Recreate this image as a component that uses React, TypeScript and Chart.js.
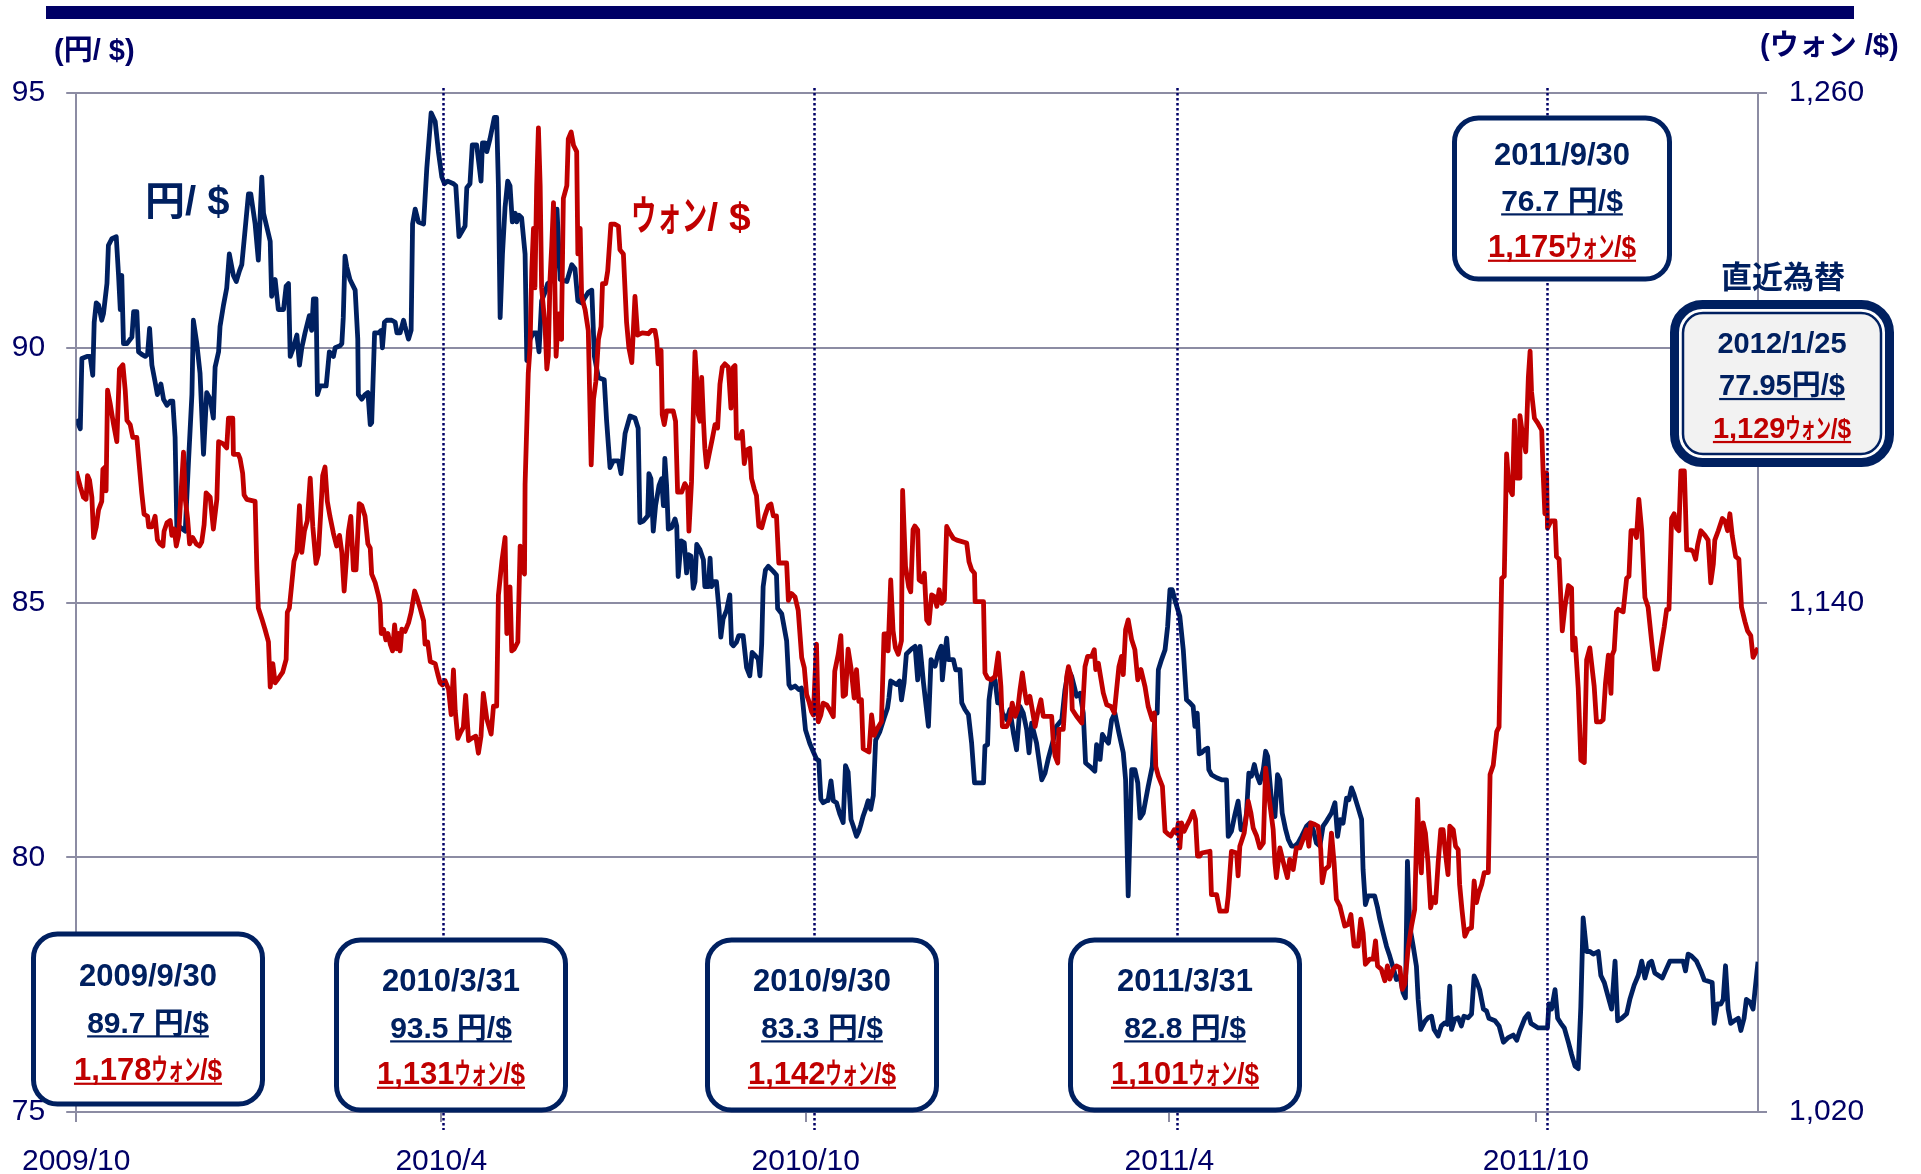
import React, { useEffect, useRef } from 'react';
import { Chart, registerables } from 'chart.js';

Chart.register(...registerables);

// x = trading-day index counted from 2009/9/30 (0) to 2012/1/25 (580)
const lastDay = 580;

// [trading day, 円/$]
const yenPerDollar: [number, number][] = [
  [0, 88.6], [1.4, 88.41], [1.95, 89.79], [3.7, 89.83], [4.8, 89.83], [5.7, 89.46], [6.2, 90.5], [6.9, 90.88],
  [7.7, 90.84], [8.8, 90.54], [9.4, 90.67], [10.6, 91.26], [11.1, 92.01], [12.3, 92.14], [13.8, 92.18], [14.6, 91.42],
  [15.2, 90.75], [15.7, 91.42], [16.3, 90.08], [17.5, 90.08], [19.2, 90.21], [19.8, 90.71], [20.9, 90.71], [21.5, 89.92],
  [22.6, 89.87], [23.8, 89.83], [24.6, 89.87], [25.3, 90.38], [26.1, 89.66], [27.2, 89.33], [28.0, 89.08], [29.2, 89.29],
  [30.1, 88.99], [31.3, 88.87], [32.4, 88.95], [33.3, 88.95], [34.1, 88.24], [34.7, 86.48], [35.8, 86.48], [37.6, 86.4],
  [38.7, 87.74], [39.9, 89.08], [40.4, 90.54], [41.6, 90.08], [42.7, 89.5], [43.9, 87.91], [45.0, 89.12], [46.2, 88.99],
  [47.3, 88.62], [47.9, 89.62], [49.1, 89.92], [49.6, 90.42], [50.8, 90.84], [51.9, 91.17], [52.8, 91.84], [54.2, 91.42],
  [55.2, 91.3], [56.3, 91.51], [57.1, 91.63], [58.3, 92.35], [59.4, 93.02], [60.2, 93.02], [61.7, 92.43], [62.8, 91.72],
  [64.0, 93.35], [64.6, 92.64], [66.9, 92.09], [67.4, 91.01], [68.6, 91.34], [69.7, 90.75], [71.5, 90.75], [72.4, 91.21],
  [73.2, 91.26], [73.8, 89.83], [74.9, 90.0], [76.1, 90.25], [77.0, 89.66], [77.8, 90.0], [78.9, 90.29], [80.4, 90.63],
  [81.2, 90.34], [81.8, 90.96], [82.7, 90.96], [83.2, 89.08], [84.1, 89.25], [86.2, 89.25], [87.3, 89.92], [88.7, 89.83],
  [89.3, 90.0], [91.0, 90.04], [91.6, 90.08], [92.1, 90.59], [92.7, 91.8], [93.3, 91.59], [94.4, 91.34], [96.2, 91.13],
  [97.1, 90.17], [97.3, 89.08], [98.5, 88.99], [99.6, 89.08], [100.6, 89.12], [101.4, 88.49], [101.9, 88.53], [102.9, 90.29],
  [104.2, 90.29], [105.2, 90.34], [105.6, 90.0], [106.3, 90.5], [107.1, 90.54], [108.8, 90.54], [110.0, 90.5], [110.6, 90.29],
  [111.7, 90.29], [112.9, 90.54], [113.4, 90.42], [114.6, 90.17], [115.5, 90.34], [116.0, 92.43], [116.9, 92.72], [118.0, 92.47],
  [119.8, 92.43], [120.9, 93.52], [122.4, 94.61], [123.8, 94.44], [124.9, 93.85], [126.1, 93.35], [127.0, 93.22], [128.1, 93.27],
  [130.1, 93.22], [130.9, 93.18], [132.0, 92.18], [133.2, 92.3], [134.1, 92.39], [134.7, 93.14], [135.8, 93.22], [136.6, 93.98],
  [138.1, 93.98], [139.6, 93.27], [140.1, 94.02], [141.0, 94.02], [141.6, 93.85], [142.7, 94.1], [144.2, 94.52], [145.0, 94.52],
  [145.6, 93.18], [146.2, 90.59], [147.0, 91.84], [147.9, 92.76], [148.8, 93.27], [149.6, 93.18], [150.4, 92.47], [151.4, 92.64],
  [151.9, 92.47], [152.7, 92.6], [153.6, 92.55], [154.8, 91.84], [155.4, 89.75], [156.5, 90.17], [157.7, 90.29], [158.8, 90.29],
  [159.6, 89.92], [160.5, 90.92], [161.7, 91.09], [162.6, 91.26], [164.9, 91.34], [165.8, 92.72], [166.9, 91.34], [169.2, 91.3],
  [170.9, 91.63], [172.0, 91.55], [173.0, 90.92], [174.3, 90.88], [176.6, 91.09], [177.8, 91.13], [178.7, 89.83], [180.1, 89.41],
  [182.1, 89.37], [182.9, 88.58], [184.1, 87.65], [185.2, 87.78], [187.0, 87.78], [187.9, 87.53], [189.3, 88.32], [191.0, 88.66],
  [192.7, 88.62], [193.8, 88.42], [194.4, 86.57], [195.6, 86.6], [197.1, 86.7], [197.5, 87.53], [198.2, 87.43], [199.0, 86.4],
  [199.8, 86.9], [201.0, 87.3], [201.9, 87.43], [202.5, 86.9], [203.0, 87.83], [203.6, 87.3], [204.2, 86.44], [205.3, 86.47],
  [206.5, 86.64], [207.1, 86.5], [207.6, 85.51], [208.6, 86.21], [209.7, 86.17], [210.5, 85.58], [211.1, 85.94], [212.0, 85.91],
  [212.8, 85.28], [213.4, 85.41], [214.0, 86.14], [215.1, 86.04], [216.3, 85.84], [216.8, 85.31], [218.0, 85.31], [218.6, 85.87],
  [219.1, 85.31], [220.0, 85.41], [220.8, 85.41], [221.7, 84.85], [222.3, 84.32], [223.1, 84.68], [224.3, 84.85], [225.4, 85.15],
  [226.0, 84.19], [226.6, 84.15], [227.7, 84.22], [228.5, 84.35], [230.0, 84.35], [231.2, 83.72], [232.3, 83.56], [233.1, 84.02],
  [234.3, 83.95], [235.2, 83.89], [235.8, 83.56], [236.4, 84.19], [236.9, 85.31], [237.7, 85.64], [238.7, 85.71], [240.4, 85.61],
  [241.5, 85.54], [241.9, 84.88], [243.3, 84.78], [245.0, 84.25], [245.8, 83.39], [246.5, 83.32], [247.9, 83.36], [249.2, 83.29],
  [250.1, 83.32], [251.5, 82.5], [253.0, 82.23], [254.2, 82.07], [255.3, 81.93], [256.1, 81.9], [256.8, 81.14], [257.6, 81.07],
  [258.8, 81.11], [259.3, 81.11], [260.3, 81.5], [261.1, 81.11], [262.2, 81.07], [263.4, 80.84], [264.5, 80.68], [265.3, 81.8],
  [266.2, 81.67], [267.2, 80.74], [268.0, 80.61], [269.1, 80.41], [269.9, 80.51], [270.6, 80.64], [271.4, 80.81], [272.2, 80.94],
  [273.1, 81.11], [274.0, 80.94], [274.9, 81.21], [275.7, 82.3], [277.1, 82.46], [278.6, 82.73], [279.8, 82.93], [280.3, 83.13],
  [280.9, 83.46], [282.9, 83.39], [284.0, 83.46], [284.6, 83.09], [285.5, 83.42], [286.3, 83.99], [288.1, 84.09], [289.3, 84.14],
  [290.2, 83.48], [291.0, 84.14], [292.2, 83.42], [293.9, 82.57], [294.8, 83.88], [296.2, 83.75], [297.3, 84.01], [298.3, 84.14],
  [298.7, 83.48], [299.6, 84.01], [300.2, 84.3], [300.8, 83.88], [302.5, 83.88], [303.3, 83.68], [304.8, 83.68], [305.4, 83.03],
  [306.5, 82.9], [307.7, 82.8], [308.8, 82.24], [309.8, 81.46], [312.9, 81.46], [313.4, 82.18], [314.3, 82.21], [314.8, 83.09],
  [315.7, 83.48], [316.9, 83.48], [317.8, 83.03], [318.6, 83.09], [319.4, 82.83], [320.9, 82.7], [322.0, 82.9], [323.2, 82.44],
  [324.3, 82.11], [325.5, 82.96], [326.6, 82.83], [327.8, 82.5], [328.6, 82.05], [329.5, 82.63], [331.2, 82.24], [332.0, 81.92],
  [333.0, 81.52], [334.1, 81.65], [335.3, 81.95], [337.0, 82.31], [338.1, 82.57], [339.9, 82.7], [341.0, 83.29], [342.2, 83.68],
  [343.3, 83.55], [344.2, 83.35], [345.0, 83.16], [346.2, 83.22], [347.3, 82.83], [348.1, 81.85], [349.6, 81.78], [351.3, 81.69],
  [351.9, 82.21], [353.1, 81.92], [353.9, 82.41], [355.0, 82.31], [356.0, 82.24], [357.1, 82.7], [358.2, 82.83], [359.6, 82.44],
  [361.1, 82.05], [361.9, 81.52], [362.8, 79.24], [364.0, 81.72], [365.1, 81.72], [366.1, 81.46], [366.9, 80.77], [368.0, 80.87],
  [369.7, 81.39], [371.1, 81.78], [372.0, 82.83], [372.8, 82.83], [373.2, 83.68], [374.3, 83.88], [375.5, 84.07], [376.4, 84.53],
  [377.2, 85.25], [378.0, 85.25], [378.9, 85.05], [380.6, 84.73], [381.8, 84.07], [382.9, 83.09], [384.1, 83.03], [385.2, 82.96],
  [385.8, 82.57], [386.6, 82.83], [387.3, 82.03], [388.1, 82.05], [389.2, 82.11], [390.2, 82.14], [390.6, 81.72], [391.5, 81.62],
  [393.3, 81.56], [395.0, 81.52], [396.7, 81.52], [397.3, 80.41], [398.4, 80.51], [399.6, 80.84], [400.7, 81.1], [401.7, 80.54],
  [402.8, 80.54], [403.6, 80.87], [404.4, 81.65], [405.3, 81.59], [406.3, 81.82], [407.1, 81.62], [408.2, 81.46], [409.4, 81.72],
  [410.2, 82.08], [410.9, 81.98], [411.7, 81.46], [412.5, 80.93], [413.4, 80.8], [414.3, 81.62], [415.1, 81.52], [415.9, 80.87],
  [417.1, 80.54], [418.0, 80.35], [419.1, 80.22], [420.3, 80.22], [421.4, 80.28], [422.6, 80.41], [424.3, 80.61], [425.4, 80.67],
  [426.6, 80.54], [427.7, 80.28], [428.9, 80.22], [430.0, 80.61], [431.2, 80.71], [432.9, 80.87], [434.1, 81.07], [435.0, 80.41],
  [435.9, 80.74], [436.9, 80.67], [438.1, 81.16], [438.9, 81.13], [439.8, 81.36], [440.7, 81.23], [442.1, 80.97], [443.3, 80.74],
  [443.8, 79.76], [444.6, 79.07], [445.5, 79.24], [447.8, 79.24], [448.8, 79.01], [449.6, 78.78], [450.7, 78.52], [451.9, 78.25],
  [453.0, 78.06], [454.2, 77.83], [455.3, 77.6], [456.5, 77.67], [457.6, 77.34], [458.4, 77.24], [459.1, 79.92], [459.9, 78.65],
  [461.1, 78.25], [462.2, 77.86], [462.8, 77.21], [463.7, 76.62], [465.1, 76.78], [466.2, 76.85], [467.4, 76.88], [468.3, 76.62],
  [469.7, 76.49], [470.8, 76.69], [472.0, 76.75], [472.9, 76.72], [473.7, 77.47], [474.3, 76.62], [475.4, 76.82], [476.6, 76.85],
  [477.7, 76.69], [478.6, 76.88], [480.0, 76.85], [481.2, 76.92], [482.1, 77.67], [482.9, 77.57], [484.0, 77.4], [485.3, 77.02],
  [486.4, 76.98], [487.2, 76.84], [489.3, 76.79], [490.7, 76.69], [492.2, 76.37], [493.9, 76.46], [495.6, 76.51], [496.8, 76.41],
  [497.9, 76.6], [499.6, 76.84], [500.8, 76.93], [501.7, 76.74], [504.2, 76.65], [507.4, 76.65], [507.9, 77.12], [508.8, 77.02],
  [510.0, 77.4], [510.9, 76.84], [512.0, 76.74], [513.2, 76.65], [514.6, 76.37], [515.7, 76.13], [516.9, 75.9], [518.0, 75.85],
  [518.9, 77.07], [519.7, 78.81], [520.9, 78.15], [522.0, 78.15], [523.2, 78.1], [524.9, 78.15], [525.8, 77.68], [527.0, 77.54],
  [528.1, 77.31], [529.5, 77.02], [530.7, 77.96], [531.6, 76.79], [533.0, 76.84], [534.7, 76.93], [535.8, 77.21], [537.3, 77.49],
  [538.7, 77.68], [539.9, 77.96], [541.0, 77.63], [542.4, 77.92], [543.3, 77.96], [544.4, 77.73], [547.0, 77.63], [548.1, 77.77],
  [549.6, 77.96], [554.2, 77.96], [555.0, 77.77], [555.9, 78.1], [557.1, 78.06], [558.8, 77.96], [560.3, 77.77], [561.5, 77.59],
  [564.2, 77.54], [564.9, 76.74], [566.0, 77.12], [567.2, 77.12], [568.0, 77.21], [568.8, 77.87], [569.7, 77.02], [570.6, 76.74],
  [571.8, 76.79], [573.2, 76.84], [574.1, 76.6], [575.2, 76.84], [576.0, 77.21], [577.2, 77.16], [578.3, 77.02], [580, 77.95],
];

// [trading day, ウォン/$]
const wonPerDollar: [number, number][] = [
  [0, 1170.9], [1.4, 1167.3], [2.5, 1164.8], [3.4, 1164.3], [3.9, 1169.9], [4.6, 1168.8], [5.4, 1164.8], [6.0, 1155.3],
  [6.9, 1157.8], [7.7, 1161.8], [8.8, 1163.8], [9.2, 1171.4], [10.0, 1171.9], [10.3, 1166.3], [10.8, 1190.0], [11.7, 1186.9],
  [12.9, 1181.9], [14.0, 1177.9], [14.9, 1195.0], [16.1, 1196.0], [16.9, 1190.0], [17.5, 1182.9], [18.6, 1181.9], [19.5, 1178.9],
  [20.9, 1178.9], [21.8, 1171.9], [22.6, 1165.8], [23.4, 1160.8], [24.6, 1160.3], [25.0, 1157.8], [26.1, 1157.8], [27.2, 1160.3],
  [28.0, 1154.8], [28.9, 1153.8], [29.9, 1153.3], [30.3, 1156.8], [31.3, 1158.8], [32.4, 1159.3], [33.0, 1155.8], [33.8, 1157.3],
  [34.5, 1153.3], [35.3, 1155.8], [36.1, 1165.3], [37.0, 1175.4], [37.6, 1164.3], [38.4, 1159.8], [39.1, 1153.8], [40.2, 1155.3],
  [41.4, 1153.8], [42.5, 1153.3], [43.3, 1154.3], [44.1, 1158.3], [44.8, 1165.8], [46.2, 1164.8], [47.3, 1157.3], [48.5, 1164.3],
  [49.1, 1177.9], [50.6, 1177.4], [51.9, 1176.4], [52.5, 1183.4], [54.0, 1183.4], [54.2, 1174.9], [55.9, 1174.9], [56.5, 1173.9],
  [57.4, 1170.4], [57.9, 1165.3], [58.8, 1164.3], [61.7, 1163.8], [62.3, 1147.7], [62.8, 1138.7], [64.0, 1136.2], [65.1, 1133.7],
  [66.3, 1130.7], [66.9, 1120.1], [67.8, 1125.6], [68.6, 1121.1], [69.7, 1122.1], [71.2, 1123.6], [72.4, 1126.6], [72.8, 1137.7],
  [73.5, 1138.7], [74.3, 1144.2], [75.1, 1149.7], [76.1, 1151.8], [77.0, 1162.8], [77.8, 1151.8], [78.7, 1156.8], [79.7, 1159.3],
  [80.7, 1169.3], [81.6, 1157.8], [82.7, 1149.2], [83.5, 1151.3], [84.3, 1160.8], [85.0, 1169.9], [85.8, 1171.9], [86.6, 1163.8],
  [87.5, 1160.3], [88.7, 1156.3], [89.8, 1153.3], [90.8, 1155.8], [91.6, 1151.8], [92.4, 1142.7], [93.3, 1151.3], [93.9, 1156.8],
  [94.7, 1160.3], [95.6, 1147.7], [96.5, 1147.7], [97.6, 1163.3], [98.5, 1162.8], [99.6, 1160.3], [100.6, 1153.8], [101.4, 1152.8],
  [101.9, 1146.7], [103.1, 1144.7], [104.2, 1141.7], [104.8, 1139.7], [105.2, 1132.7], [106.0, 1133.7], [106.8, 1131.2], [107.5, 1132.7],
  [108.3, 1130.2], [109.1, 1128.6], [109.8, 1134.7], [110.6, 1129.1], [111.1, 1132.7], [111.7, 1128.6], [112.3, 1133.7], [113.4, 1133.2],
  [114.6, 1135.2], [115.5, 1137.7], [116.7, 1142.7], [117.5, 1141.2], [118.6, 1138.7], [119.8, 1135.7], [120.3, 1130.2], [121.2, 1130.7],
  [122.1, 1126.1], [123.8, 1125.6], [124.7, 1123.1], [125.5, 1121.1], [126.3, 1120.6], [127.2, 1121.6], [128.4, 1119.6], [129.3, 1113.6],
  [130.1, 1124.1], [130.7, 1114.6], [131.6, 1108.0], [132.7, 1109.6], [133.5, 1110.6], [134.3, 1118.1], [135.3, 1107.5], [136.4, 1108.0],
  [137.8, 1108.5], [138.7, 1104.5], [139.6, 1108.5], [140.4, 1118.6], [141.6, 1112.6], [143.1, 1109.0], [143.9, 1115.6], [145.0, 1115.6],
  [145.6, 1141.7], [146.8, 1149.7], [147.9, 1155.3], [148.5, 1132.7], [149.6, 1143.7], [150.2, 1128.6], [151.1, 1129.1], [152.3, 1130.7],
  [153.1, 1153.3], [153.9, 1147.7], [154.6, 1146.7], [154.8, 1167.8], [155.4, 1181.9], [155.9, 1194.0], [156.5, 1200.0], [157.1, 1218.1],
  [157.7, 1228.1], [158.2, 1214.1], [158.8, 1238.2], [159.4, 1251.8], [160.0, 1238.2], [160.5, 1214.1], [161.7, 1205.0], [162.3, 1195.0],
  [162.8, 1198.0], [163.4, 1216.1], [164.0, 1224.1], [164.6, 1234.2], [165.1, 1213.1], [165.5, 1198.0], [166.3, 1208.0], [167.2, 1202.0],
  [167.4, 1206.0], [168.0, 1235.2], [169.2, 1238.2], [169.7, 1249.2], [170.7, 1250.8], [171.5, 1247.7], [172.6, 1246.2], [173.0, 1222.1],
  [173.8, 1228.1], [174.3, 1212.1], [175.5, 1209.0], [176.6, 1204.0], [177.6, 1172.4], [178.4, 1187.9], [179.2, 1192.0], [180.1, 1202.0],
  [181.0, 1205.0], [181.5, 1215.1], [182.6, 1215.1], [183.3, 1218.1], [184.4, 1229.1], [185.8, 1229.1], [187.0, 1228.6], [187.5, 1223.1],
  [188.7, 1222.1], [189.8, 1206.0], [190.6, 1200.0], [191.6, 1196.5], [192.7, 1212.1], [193.6, 1203.0], [195.2, 1203.5], [197.3, 1203.3],
  [198.4, 1204.1], [199.6, 1204.1], [200.2, 1201.7], [200.7, 1196.2], [201.7, 1199.4], [202.1, 1184.3], [202.8, 1181.9], [203.6, 1185.1],
  [205.9, 1185.1], [206.7, 1182.7], [207.4, 1166.0], [208.8, 1166.0], [209.9, 1168.0], [210.9, 1166.8], [211.3, 1156.8], [212.2, 1168.4],
  [212.8, 1184.3], [213.4, 1199.0], [214.0, 1192.2], [214.5, 1184.3], [215.1, 1182.7], [215.7, 1193.0], [216.3, 1183.1], [216.8, 1176.3],
  [217.4, 1171.9], [218.2, 1174.7], [219.4, 1178.7], [220.3, 1181.9], [221.2, 1181.1], [222.0, 1191.4], [222.8, 1195.4], [223.7, 1196.2],
  [224.9, 1195.4], [225.8, 1185.8], [226.6, 1195.4], [227.2, 1195.8], [227.7, 1178.7], [228.9, 1178.7], [229.7, 1180.3], [230.4, 1172.7],
  [231.2, 1175.9], [232.3, 1176.3], [232.9, 1169.2], [233.8, 1166.8], [234.6, 1165.2], [235.4, 1158.0], [236.4, 1157.6], [237.5, 1160.4],
  [238.7, 1162.8], [239.6, 1163.2], [240.4, 1160.4], [241.5, 1160.4], [242.3, 1149.3], [245.0, 1149.3], [245.6, 1140.5], [246.7, 1142.1],
  [247.9, 1141.3], [249.0, 1138.1], [250.2, 1127.0], [251.1, 1124.6], [251.9, 1118.3], [252.7, 1116.7], [253.6, 1114.3], [254.2, 1113.5],
  [255.3, 1130.2], [255.9, 1111.9], [256.8, 1113.5], [257.6, 1116.3], [258.8, 1115.9], [259.9, 1114.7], [261.1, 1113.1], [261.6, 1123.8],
  [262.8, 1127.8], [263.7, 1132.2], [264.5, 1117.9], [265.3, 1118.3], [266.2, 1129.0], [267.2, 1124.6], [268.3, 1117.5], [269.1, 1124.2],
  [269.9, 1116.7], [270.8, 1117.1], [271.4, 1105.6], [273.4, 1104.8], [274.3, 1113.5], [275.2, 1108.7], [276.3, 1110.3], [277.7, 1111.9],
  [278.6, 1132.6], [279.4, 1132.6], [280.0, 1128.6], [280.9, 1145.3], [281.7, 1133.4], [282.5, 1129.4], [283.5, 1127.8], [284.6, 1131.0],
  [285.0, 1166.4], [286.0, 1148.5], [287.1, 1143.7], [287.8, 1142.5], [288.6, 1157.2], [289.2, 1158.0], [290.2, 1157.1], [290.7, 1145.3],
  [291.6, 1144.9], [292.5, 1146.9], [293.3, 1135.9], [294.1, 1135.1], [295.0, 1141.8], [296.0, 1141.4], [296.8, 1139.1], [297.6, 1143.0],
  [298.5, 1139.8], [299.4, 1140.6], [300.2, 1157.9], [301.4, 1156.3], [302.5, 1155.1], [303.7, 1154.7], [307.1, 1154.0], [307.9, 1149.6],
  [308.8, 1147.7], [309.8, 1146.9], [310.0, 1140.2], [312.9, 1140.2], [313.4, 1123.4], [314.3, 1122.2], [315.5, 1121.8], [316.9, 1122.6],
  [318.0, 1128.1], [318.9, 1120.2], [319.4, 1110.8], [320.9, 1110.8], [322.0, 1112.4], [322.8, 1116.3], [323.8, 1113.2], [324.7, 1114.8],
  [325.5, 1119.5], [326.3, 1123.4], [327.2, 1118.7], [327.8, 1116.3], [328.9, 1117.9], [329.7, 1114.8], [330.7, 1110.8], [331.6, 1114.0],
  [332.7, 1117.1], [333.5, 1113.2], [336.4, 1113.2], [337.0, 1106.9], [337.6, 1103.8], [338.5, 1102.2], [338.9, 1110.1], [340.4, 1110.1],
  [341.6, 1122.6], [342.2, 1124.9], [343.1, 1122.6], [343.5, 1114.8], [345.0, 1113.2], [346.8, 1111.6], [347.9, 1124.9], [348.8, 1127.3],
  [350.2, 1127.3], [351.1, 1128.9], [351.6, 1124.2], [352.5, 1125.7], [354.2, 1118.7], [355.4, 1115.9], [356.9, 1115.5], [358.0, 1114.0],
  [358.8, 1119.5], [359.6, 1124.9], [360.5, 1127.3], [361.1, 1123.0], [361.9, 1133.6], [362.8, 1135.9], [364.0, 1131.2], [365.1, 1128.9],
  [366.1, 1121.8], [367.2, 1124.2], [368.6, 1120.2], [369.7, 1115.5], [371.1, 1112.4], [371.8, 1114.0], [372.3, 1101.4], [373.2, 1099.1],
  [374.6, 1096.7], [375.5, 1086.1], [376.6, 1085.4], [377.5, 1085.0], [378.7, 1086.5], [379.5, 1085.7], [380.1, 1088.1], [380.6, 1082.2],
  [381.2, 1088.1], [382.1, 1086.1], [382.9, 1087.3], [384.1, 1088.9], [385.2, 1090.8], [386.0, 1088.9], [386.7, 1080.3], [387.5, 1080.3],
  [388.1, 1081.0], [391.0, 1081.4], [391.5, 1071.2], [393.3, 1071.2], [394.4, 1067.3], [396.7, 1067.3], [397.3, 1070.9], [398.4, 1081.4],
  [400.2, 1081.0], [400.7, 1075.6], [401.3, 1082.6], [402.8, 1085.7], [404.2, 1093.2], [405.1, 1090.5], [405.9, 1086.9], [407.1, 1085.0],
  [408.2, 1082.2], [409.4, 1083.4], [410.2, 1101.0], [411.3, 1094.4], [412.8, 1086.5], [413.4, 1078.7], [413.9, 1075.2], [415.1, 1082.2],
  [416.2, 1079.1], [417.7, 1075.2], [418.5, 1079.5], [419.7, 1077.1], [420.8, 1082.2], [422.0, 1082.2], [423.1, 1084.2], [424.3, 1086.5],
  [425.1, 1082.6], [425.8, 1088.1], [427.2, 1087.7], [428.3, 1087.3], [429.2, 1081.8], [429.7, 1074.0], [430.6, 1077.1], [432.0, 1077.9],
  [432.9, 1085.7], [433.8, 1078.7], [434.6, 1070.1], [435.8, 1068.5], [436.9, 1065.4], [437.5, 1063.8], [438.7, 1064.2], [439.6, 1066.5],
  [440.7, 1059.1], [442.1, 1059.1], [443.0, 1065.4], [443.8, 1062.2], [444.6, 1054.8], [446.1, 1056.0], [447.3, 1056.0], [448.1, 1060.3],
  [448.8, 1054.4], [450.1, 1053.6], [451.3, 1050.9], [452.2, 1054.4], [453.0, 1051.3], [454.2, 1053.6], [455.3, 1054.4], [456.5, 1054.0],
  [457.3, 1048.9], [458.2, 1050.1], [459.3, 1058.3], [460.5, 1063.8], [461.6, 1067.7], [462.6, 1093.6], [463.0, 1085.4], [463.9, 1076.3],
  [464.5, 1088.1], [465.3, 1085.7], [466.2, 1078.7], [467.1, 1068.1], [467.9, 1070.5], [468.8, 1069.3], [469.7, 1078.7], [470.6, 1086.5],
  [471.4, 1086.5], [472.2, 1081.0], [473.1, 1075.9], [473.7, 1087.3], [474.9, 1086.5], [475.7, 1082.6], [476.6, 1081.8], [477.1, 1073.6],
  [477.9, 1067.7], [478.9, 1061.4], [480.0, 1063.0], [481.2, 1063.4], [482.1, 1074.4], [482.9, 1069.3], [483.7, 1071.6], [484.7, 1073.6],
  [485.6, 1076.4], [487.0, 1076.4], [487.6, 1099.5], [488.7, 1101.7], [489.9, 1109.6], [490.7, 1110.7], [491.6, 1145.7], [492.5, 1146.2],
  [493.3, 1175.0], [494.1, 1167.1], [495.3, 1165.4], [496.0, 1182.9], [496.8, 1169.3], [497.6, 1169.3], [497.9, 1184.0], [498.7, 1180.1],
  [499.9, 1175.5], [500.8, 1193.0], [501.4, 1199.2], [501.9, 1189.6], [502.9, 1183.4], [504.0, 1182.3], [505.4, 1180.6], [505.9, 1170.5],
  [506.5, 1160.9], [507.1, 1170.5], [507.4, 1157.5], [508.6, 1159.2], [510.0, 1159.2], [510.5, 1150.8], [511.4, 1150.2], [512.5, 1133.3],
  [513.4, 1138.9], [514.6, 1144.0], [515.7, 1143.4], [516.1, 1128.8], [516.9, 1131.6], [518.0, 1119.8], [518.9, 1102.9], [520.1, 1102.3],
  [520.9, 1126.5], [522.0, 1129.3], [523.5, 1120.3], [524.3, 1111.9], [525.8, 1111.9], [526.6, 1112.4], [527.4, 1120.9], [528.4, 1127.6],
  [529.3, 1118.6], [529.7, 1127.6], [530.4, 1128.8], [531.2, 1137.8], [531.8, 1138.4], [533.5, 1137.8], [534.7, 1145.7], [535.5, 1146.2],
  [536.2, 1156.9], [537.3, 1156.9], [538.1, 1155.3], [538.9, 1164.3], [539.9, 1156.9], [541.0, 1141.2], [542.1, 1138.9], [543.3, 1131.0],
  [544.4, 1124.3], [545.4, 1124.3], [546.5, 1129.3], [547.7, 1134.4], [548.5, 1138.4], [549.3, 1138.4], [550.2, 1159.8], [551.1, 1160.9],
  [551.9, 1157.5], [552.7, 1156.9], [553.4, 1171.0], [554.6, 1171.0], [555.0, 1162.0], [555.4, 1152.4], [556.9, 1152.4], [557.7, 1151.9],
  [558.5, 1150.2], [559.2, 1153.6], [560.3, 1156.9], [561.7, 1155.8], [562.8, 1154.7], [563.7, 1144.6], [564.6, 1149.1], [565.1, 1154.7],
  [566.3, 1156.9], [567.7, 1159.8], [568.6, 1159.2], [569.5, 1156.9], [570.3, 1160.9], [571.1, 1155.8], [572.3, 1150.8], [573.4, 1150.2],
  [574.3, 1138.9], [575.5, 1135.5], [576.4, 1133.3], [577.5, 1132.2], [578.3, 1127.1], [580, 1129.3],
];

// x-axis ticks
const xTickDays = [0, 125.9, 251.6, 377.0, 503.4];
const xTickLabels = ['2009/10', '2010/4', '2010/10', '2011/4', '2011/10'];
// dotted reference dates: 2010/3/31, 2010/9/30, 2011/3/31, 2011/9/30
const markerDays = [126.6, 254.5, 379.7, 507.4];

// callout boxes
const boxDates = ['2009/9/30', '2010/3/31', '2010/9/30', '2011/3/31', '2011/9/30'];
const boxYen = ['89.7', '93.5', '83.3', '82.8', '76.7'];
const boxWon = ['1,178', '1,131', '1,142', '1,101', '1,175'];
const latestDate = '2012/1/25';
const latestYen = '77.95';
const latestWon = '1,129';

const NAVY = '#002060';
const DARK = '#000066';
const RED = '#c00000';
const GRID = '#8c8ca3';
const FONT = "'Liberation Sans', Arial, 'Noto Sans CJK JP', sans-serif";

type Part = { t: string; size: number; sx?: number };

function drawRich(ctx: CanvasRenderingContext2D, parts: Part[], x: number, cy: number, color: string, align: 'center' | 'left', underline = false) {
  const widths = parts.map((p) => {
    ctx.font = `bold ${p.size}px ${FONT}`;
    return ctx.measureText(p.t).width * (p.sx ?? 1);
  });
  const total = widths.reduce((a, b) => a + b, 0);
  let cur = align === 'center' ? x - total / 2 : x;
  const start = cur;
  const maxSize = Math.max(...parts.map((p) => p.size));
  const baseline = cy + maxSize * 0.36;
  ctx.fillStyle = color;
  ctx.textAlign = 'left';
  ctx.textBaseline = 'alphabetic';
  parts.forEach((p, i) => {
    ctx.font = `bold ${p.size}px ${FONT}`;
    ctx.save();
    ctx.translate(cur, baseline);
    ctx.scale(p.sx ?? 1, 1);
    ctx.fillText(p.t, 0, 0);
    ctx.restore();
    cur += widths[i];
  });
  if (underline) {
    ctx.fillRect(start, baseline + 2.5, total, 2.2);
  }
}

function roundRectPath(ctx: CanvasRenderingContext2D, x: number, y: number, w: number, h: number, r: number) {
  ctx.beginPath();
  ctx.moveTo(x + r, y);
  ctx.lineTo(x + w - r, y);
  ctx.arcTo(x + w, y, x + w, y + r, r);
  ctx.lineTo(x + w, y + h - r);
  ctx.arcTo(x + w, y + h, x + w - r, y + h, r);
  ctx.lineTo(x + r, y + h);
  ctx.arcTo(x, y + h, x, y + h - r, r);
  ctx.lineTo(x, y + r);
  ctx.arcTo(x, y, x + r, y, r);
  ctx.closePath();
}

function wonParts(v: string, s: number): Part[] {
  return [
    { t: v, size: s },
    { t: 'ウォン', size: s - 2, sx: 0.56 },
    { t: '/$', size: s - 2, sx: 0.9 },
  ];
}

const overlayPlugin = {
  id: 'overlay',
  afterDatasetsDraw(chart: any) {
    const ctx: CanvasRenderingContext2D = chart.ctx;
    const xs = chart.scales.x;
    const area = chart.chartArea;
    ctx.save();
    ctx.strokeStyle = DARK;
    ctx.lineWidth = 2.5;
    ctx.setLineDash([2.5, 2.5]);
    markerDays.forEach((d) => {
      const px = Math.round(xs.getPixelForValue(d)) + 0.5;
      ctx.beginPath();
      ctx.moveTo(px, area.top - 5);
      ctx.lineTo(px, area.bottom + 18);
      ctx.stroke();
    });
    ctx.restore();
  },
  afterDraw(chart: any) {
    const ctx: CanvasRenderingContext2D = chart.ctx;
    ctx.save();
    // top bar
    ctx.fillStyle = DARK;
    ctx.fillRect(46, 6, 1808, 13);
    // axis titles
    drawRich(ctx, [{ t: '(円/ $)', size: 29 }], 54, 50, DARK, 'left');
    drawRich(ctx, [{ t: '(ウォン /$)', size: 29 }], 1760, 45, DARK, 'left');
    // series labels
    drawRich(ctx, [{ t: '円/ $', size: 40 }], 145, 201, NAVY, 'left');
    drawRich(ctx, [{ t: 'ウォン', size: 41, sx: 0.62 }, { t: '/ $', size: 39 }], 631, 215, RED, 'left');

    // callout boxes
    const layout = [
      { cx: 148, top: 934, w: 229, h: 170, rows: [41, 88, 135] },
      { cx: 451, top: 940, w: 229, h: 170, rows: [40, 87, 133] },
      { cx: 822, top: 940, w: 229, h: 170, rows: [40, 87, 133] },
      { cx: 1185, top: 940, w: 229, h: 170, rows: [40, 87, 133] },
      { cx: 1562, top: 118, w: 215, h: 161, rows: [36, 82, 128] },
    ];
    layout.forEach((b, i) => {
      roundRectPath(ctx, b.cx - b.w / 2, b.top, b.w, b.h, 24);
      ctx.fillStyle = '#ffffff';
      ctx.fill();
      ctx.lineWidth = 5;
      ctx.strokeStyle = NAVY;
      ctx.stroke();
      drawRich(ctx, [{ t: boxDates[i], size: 31 }], b.cx, b.top + b.rows[0], NAVY, 'center');
      drawRich(ctx, [{ t: `${boxYen[i]} 円/$`, size: 30 }], b.cx, b.top + b.rows[1], NAVY, 'center', true);
      drawRich(ctx, wonParts(boxWon[i], 31), b.cx, b.top + b.rows[2], RED, 'center', true);
    });

    // latest box
    drawRich(ctx, [{ t: '直近為替', size: 31 }], 1783, 277, NAVY, 'center');
    const L = { x: 1670, y: 300, w: 224, h: 167 };
    roundRectPath(ctx, L.x + 4.5, L.y + 4.5, L.w - 9, L.h - 9, 28);
    ctx.fillStyle = '#ffffff';
    ctx.fill();
    ctx.lineWidth = 9;
    ctx.strokeStyle = NAVY;
    ctx.stroke();
    roundRectPath(ctx, L.x + 13, L.y + 13, L.w - 26, L.h - 26, 20);
    ctx.fillStyle = '#f2f2f2';
    ctx.fill();
    ctx.lineWidth = 2.5;
    ctx.stroke();
    drawRich(ctx, [{ t: latestDate, size: 29 }], 1782, 343, NAVY, 'center');
    drawRich(ctx, [{ t: `${latestYen}円/$`, size: 29 }], 1782, 385, NAVY, 'center', true);
    drawRich(ctx, wonParts(latestWon, 29), 1782, 428, RED, 'center', true);
    ctx.restore();
  },
};

export default function App() {
  const ref = useRef<HTMLCanvasElement | null>(null);
  useEffect(() => {
    if (!ref.current) return;
    const chart = new Chart(ref.current, {
      type: 'line',
      data: {
        datasets: [
          {
            label: 'ウォン/$',
            data: wonPerDollar.map(([d, v]) => ({ x: d, y: v })),
            yAxisID: 'y1',
            borderColor: RED,
            borderWidth: 4.8,
            pointRadius: 0,
            tension: 0,
            borderJoinStyle: 'round',
            fill: false,
          },
          {
            label: '円/$',
            data: yenPerDollar.map(([d, v]) => ({ x: d, y: v })),
            yAxisID: 'y',
            borderColor: NAVY,
            borderWidth: 4.8,
            pointRadius: 0,
            tension: 0,
            borderJoinStyle: 'round',
            fill: false,
          },
        ],
      },
      options: {
        responsive: false,
        animation: false,
        devicePixelRatio: 1,
        layout: { padding: { top: 93, left: 0, right: 0, bottom: 0 } },
        plugins: { legend: { display: false }, tooltip: { enabled: false }, title: { display: false } },
        scales: {
          x: {
            type: 'linear',
            min: 0,
            max: lastDay,
            afterBuildTicks: (s: any) => {
              s.ticks = xTickDays.map((v) => ({ value: v }));
            },
            afterFit: (s: any) => {
              s.height = 62;
            },
            grid: { drawOnChartArea: false, drawTicks: true, tickLength: 10, color: GRID, lineWidth: 2 },
            border: { display: true, color: GRID, width: 2 },
            ticks: {
              autoSkip: false,
              maxRotation: 0,
              padding: 22,
              color: DARK,
              font: { family: FONT, size: 30 },
              callback: (_v: any, i: number) => xTickLabels[i],
            },
          },
          y: {
            position: 'left',
            min: 75,
            max: 95,
            afterFit: (s: any) => {
              s.width = 76;
            },
            grid: { color: GRID, lineWidth: 2, tickLength: 10 },
            border: { display: true, color: GRID, width: 2 },
            ticks: { stepSize: 5, padding: 21, color: DARK, font: { family: FONT, size: 30 } },
          },
          y1: {
            position: 'right',
            min: 1020,
            max: 1260,
            afterFit: (s: any) => {
              s.width = 163;
            },
            grid: { drawOnChartArea: false, tickLength: 9, color: GRID, lineWidth: 2 },
            border: { display: true, color: GRID, width: 2 },
            ticks: {
              stepSize: 120,
              padding: 22,
              color: DARK,
              font: { family: FONT, size: 30 },
              callback: (v: any) => Number(v).toLocaleString('en-US'),
            },
          },
        },
      },
      plugins: [overlayPlugin],
    } as any);
    return () => chart.destroy();
  }, []);
  return (
    <div style={{ position: 'fixed', left: 0, top: 0, width: 1921, height: 1174, background: '#ffffff' }}>
      <canvas ref={ref} width={1921} height={1174} style={{ display: 'block', width: 1921, height: 1174 }} />
    </div>
  );
}
